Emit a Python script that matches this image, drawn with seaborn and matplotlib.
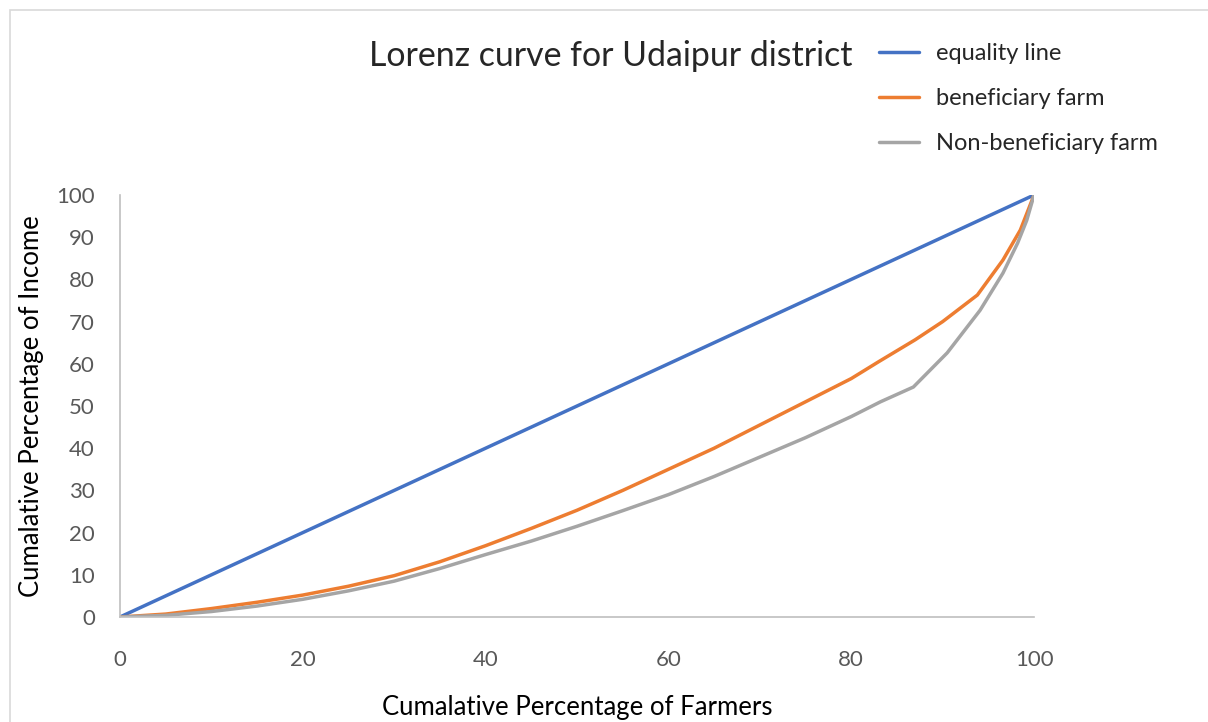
import matplotlib.pyplot as plt
import pandas as pd
import seaborn as sns
from matplotlib.patches import Rectangle

# Datos
x_igualdad = [0, 100]
y_igualdad = [0, 100]

x_benef = [0, 5, 10, 15, 20, 25, 30, 35, 40, 45, 50, 55, 60, 65, 70, 75, 80, 83,
           87, 90, 93.8, 96.6, 98.5, 100]
y_benef = [0, 0.7, 2.0, 3.5, 5.2, 7.3, 9.8, 13.1, 16.9, 21.0, 25.3, 30.0, 35.0, 40.0,
           45.5, 51.0, 56.5, 60.5, 65.7, 70.0, 76.3, 84.6, 91.7, 100]

x_no_benef = [0, 5, 10, 15, 20, 25, 30, 35, 40, 45, 50, 55, 60, 65, 70, 75, 80, 83.2,
              86.8, 90.5, 94.1, 96.6, 98.2, 99.2, 100]
y_no_benef = [0, 0.4, 1.3, 2.6, 4.2, 6.2, 8.5, 11.5, 14.8, 18.0, 21.5, 25.2, 29.0, 33.3,
              37.9, 42.5, 47.5, 51.0, 54.5, 62.6, 72.7, 81.5, 88.6, 94.0, 100]

series = ["equality line", "beneficiary farm", "Non-beneficiary farm"]
colores = ["#4472C4", "#ED7D31", "#A5A5A5"]

df = pd.concat([
    pd.DataFrame({"x": x_igualdad, "y": y_igualdad, "serie": series[0]}),
    pd.DataFrame({"x": x_benef, "y": y_benef, "serie": series[1]}),
    pd.DataFrame({"x": x_no_benef, "y": y_no_benef, "serie": series[2]}),
])

sns.set_style("white")
plt.rcParams["font.family"] = ["Lato", "DejaVu Sans"]

fig = plt.figure(figsize=(12.08, 7.22), dpi=100)
ax = fig.add_axes([0.0993, 0.1454, 0.7567, 0.5845])

sns.lineplot(data=df, x="x", y="y", hue="serie", hue_order=series,
             palette=dict(zip(series, colores)), estimator=None, sort=False,
             linewidth=2.5, ax=ax)

ax.set_xlim(0, 100)
ax.set_ylim(0, 100)
ax.set_xticks(range(0, 101, 20))
ax.set_yticks(range(0, 101, 10))
ax.tick_params(axis="both", length=0, labelsize=16, labelcolor="#595959")
ax.tick_params(axis="x", pad=24)
ax.tick_params(axis="y", pad=18)

for lado in ["top", "right"]:
    ax.spines[lado].set_visible(False)
for lado in ["left", "bottom"]:
    ax.spines[lado].set_color("#BFBFBF")
    ax.spines[lado].set_linewidth(1.2)

ax.set_xlabel("Cumalative Percentage of Farmers", fontsize=18.5, color="black", labelpad=18)
ax.set_ylabel("Cumalative Percentage of Income", fontsize=18.5, color="black", labelpad=9)

fig.text(0.506, 0.922, "Lorenz curve for Udaipur district", fontsize=24.4,
         ha="center", va="center")

ax.legend_.remove()
handles, labels = ax.get_legend_handles_labels()
fig.legend(handles, labels, loc="upper left", bbox_to_anchor=(0.7177, 0.9564),
           frameon=False, fontsize=17, handlelength=1.7, handletextpad=0.72,
           labelspacing=1.02, borderpad=0)

# Borde gris del recuadro del grafico
fig.patches.append(Rectangle((10 / 1208, -0.1), 1.2, 1.1 - 10 / 722,
                             transform=fig.transFigure, fill=False,
                             edgecolor="#D9D9D9", linewidth=1.2))

fig.savefig("out.png", dpi=100)
